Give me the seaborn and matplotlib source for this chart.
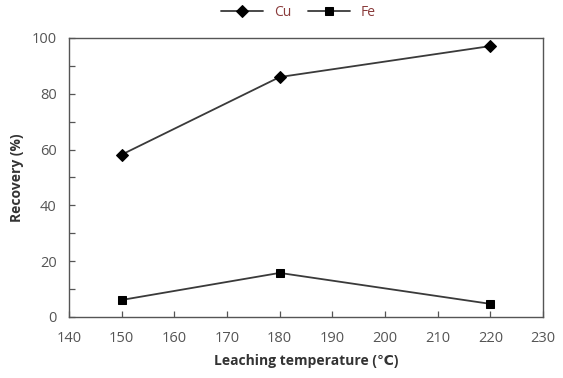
import numpy as np
import pandas as pd
import matplotlib
matplotlib.use('Agg')
import matplotlib.pyplot as plt
import seaborn as sns
from matplotlib.ticker import MultipleLocator

temps = [150, 180, 220]
cu = [58.2, 86.0, 97.1]
fe = [6.1, 15.8, 4.7]

df = pd.DataFrame({
    'temp': temps * 2,
    'rec': cu + fe,
    'metal': ['Cu'] * 3 + ['Fe'] * 3,
})

sns.set_style('white')
plt.rcParams['font.family'] = ['Open Sans', 'DejaVu Sans']

fig = plt.figure(figsize=(5.63, 3.78), dpi=100)
ax = fig.add_axes([0.1226, 0.1614, 0.8419, 0.7381])

sns.lineplot(data=df, x='temp', y='rec', hue='metal', style='metal',
             palette={'Cu': '#3a3a3a', 'Fe': '#3a3a3a'},
             markers={'Cu': 'D', 'Fe': 's'}, dashes=False,
             markersize=6, markeredgecolor='black', markerfacecolor='black',
             linewidth=1.3, ax=ax, legend=True)

ax.set_xlim(140, 230)
ax.set_ylim(0, 100)
ax.xaxis.set_major_locator(MultipleLocator(10))
ax.yaxis.set_major_locator(MultipleLocator(20))
ax.yaxis.set_minor_locator(MultipleLocator(10))
ax.tick_params(axis='both', which='both', direction='in', colors='#555555',
               labelcolor='#555555', labelsize=10.5, length=4, width=0.9)
ax.tick_params(axis='y', which='both', left=True, pad=9)
ax.tick_params(axis='x', which='major', bottom=True, pad=10)
for s in ax.spines.values():
    s.set_color('#555555')
    s.set_linewidth(1.0)

ax.set_xlabel('Leaching temperature (℃)', fontsize=10, fontweight='bold',
              color='#333333', labelpad=6)
ax.set_ylabel('Recovery (%)', fontsize=10, fontweight='bold', color='#333333',
              labelpad=5)

handles, labels = ax.get_legend_handles_labels()
ax.legend_.remove()
fig.legend(handles, labels, loc='center', bbox_to_anchor=(0.53, 0.968), ncol=2,
           frameon=False, fontsize=10, handlelength=3, columnspacing=1.2,
           labelcolor='#8a3b3b')

fig.savefig('out.png', dpi=100)
